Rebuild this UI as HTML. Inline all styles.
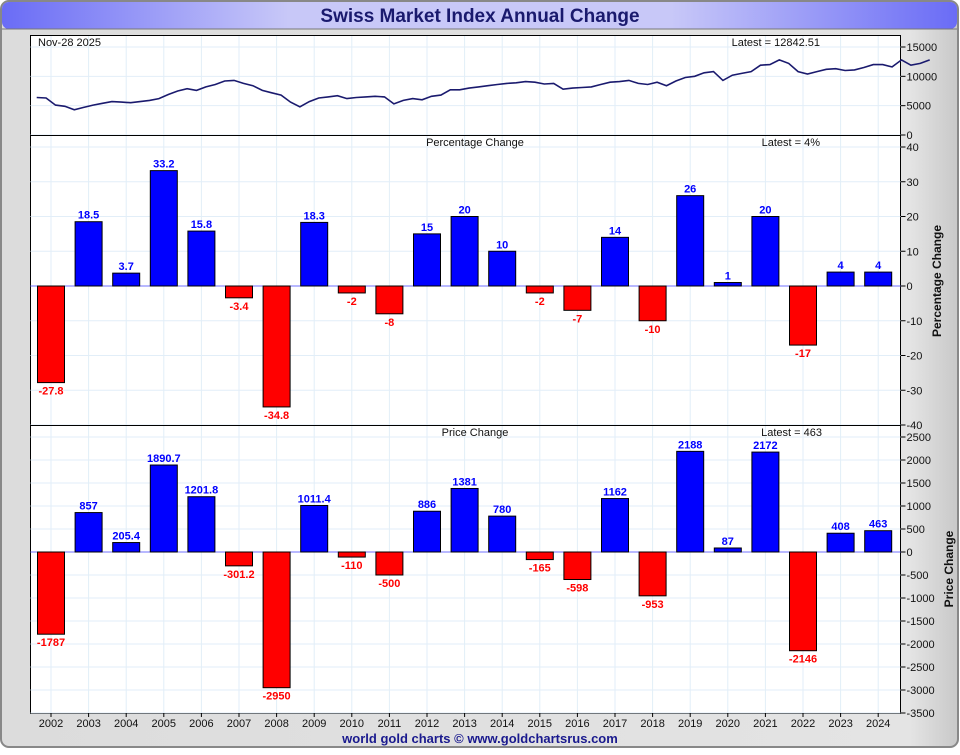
<!DOCTYPE html>
<html><head><meta charset="utf-8"><style>
body{margin:0;width:960px;height:750px;overflow:hidden;background:#fff;font-family:"Liberation Sans",sans-serif}
</style></head><body>
<svg id="c" width="960" height="750" xmlns="http://www.w3.org/2000/svg">
<defs>
<linearGradient id="tg" x1="0" x2="1"><stop offset="0" stop-color="#6a6cf6"/><stop offset="0.3" stop-color="#c8c8f8"/><stop offset="0.7" stop-color="#c8c8f8"/><stop offset="1" stop-color="#6a6cf6"/></linearGradient>
<linearGradient id="bg" x1="0" x2="1"><stop offset="0" stop-color="#dcdcdc"/><stop offset="0.95" stop-color="#e4e4e4"/><stop offset="1" stop-color="#c8c8c8"/></linearGradient>
</defs>
<rect x="1" y="1" width="957" height="746" rx="8" fill="url(#bg)" stroke="#888" stroke-width="2"/>
<rect x="2" y="2" width="955" height="27" rx="7" fill="url(#tg)"/>
<line x1="2" y1="29" x2="957" y2="29" stroke="#777"/>
<text x="480" y="22" text-anchor="middle" font-size="19" font-weight="bold" fill="#1a1a6e">Swiss Market Index Annual Change</text>
<rect x="30.5" y="35.5" width="870" height="678" fill="#fff" stroke="#000"/>
<g id="g"></g>
<text x="480" y="743" text-anchor="middle" font-size="13" font-weight="bold" fill="#1a1a8e">world gold charts © www.goldchartsrus.com</text>
</svg>
<script>
const years=[2002,2003,2004,2005,2006,2007,2008,2009,2010,2011,2012,2013,2014,2015,2016,2017,2018,2019,2020,2021,2022,2023,2024];
const pctValues=[-27.8,18.5,3.7,33.2,15.8,-3.4,-34.8,18.3,-2,-8,15,20,10,-2,-7,14,-10,26,1,20,-17,4,4];
const pctLabels=["-27.8","18.5","3.7","33.2","15.8","-3.4","-34.8","18.3","-2","-8","15","20","10","-2","-7","14","-10","26","1","20","-17","4","4"];
const priceValues=[-1787,857,205.4,1890.7,1201.8,-301.2,-2950,1011.4,-110,-500,886,1381,780,-165,-598,1162,-953,2188,87,2172,-2146,408,463];
const priceLabels=["-1787","857","205.4","1890.7","1201.8","-301.2","-2950","1011.4","-110","-500","886","1381","780","-165","-598","1162","-953","2188","87","2172","-2146","408","463"];
const pctTicks=[40,30,20,10,0,-10,-20,-30,-40];
const priceTicks=[2500,2000,1500,1000,500,0,-500,-1000,-1500,-2000,-2500,-3000,-3500];
const idxTicks=[15000,10000,5000,0];
// quarterly index levels 2002Q1..2025Q4
const idxValues=[6400,6300,5100,4900,4300,4700,5100,5400,5700,5600,5500,5700,5900,6200,6900,7500,7900,7600,8200,8600,9200,9300,8800,8400,7600,7200,6800,5600,4800,5700,6300,6500,6700,6200,6400,6500,6600,6500,5300,5900,6200,6000,6600,6800,7700,7700,8000,8200,8400,8600,8800,8900,9100,9000,8700,8800,7800,8000,8100,8200,8600,9000,9100,9300,8800,8600,9000,8400,9200,9800,10000,10600,10800,9300,10200,10500,10800,11900,12000,12800,12200,10800,10400,10800,11200,11300,11000,11100,11500,12000,12000,11600,12800,11900,12200,12800];

const NS="http://www.w3.org/2000/svg",G=document.getElementById('g');
function mk(t,a,txt){const e=document.createElementNS(NS,t);for(const k in a)e.setAttribute(k,a[k]);if(txt!==undefined)e.textContent=txt;G.appendChild(e);return e;}
const X0=30.5,X1=900.5;
const xYear=y=>51+(y-2002)*37.6;
const xTime=t=>32+(t-2002)*37.6;
const yIdx=v=>135-v*88/15000;
const yPct=v=>286-v*3.475;
const yPrice=v=>552-v*0.046;

// vertical grid
years.forEach(yr=>{const l=mk('line',{x1:xYear(yr),x2:xYear(yr),y1:36,y2:713,stroke:'#e2eef8'});
});
// horizontal grids + ticks
function axis(ticks,f,name,fmt){ticks.forEach(v=>{const y=f(v);
 const g=mk('line',{x1:X0,x2:X1,y1:y,y2:y,stroke:'#e2eef8'});
 mk('line',{x1:X1,x2:X1+5,y1:y,y2:y,stroke:'#000'});
 const t=mk('text',{x:X1+6,y:y+4,'font-size':11,fill:'#111'},fmt?fmt(v):String(v));});}
axis(idxTicks,yIdx,'index');axis(pctTicks,yPct,'percent');axis(priceTicks,yPrice,'price');
// panel separators
[135.5,425.5].forEach(y=>{const l=mk('line',{x1:X0,x2:X1,y1:y,y2:y,stroke:'#000'});});
// index line
let d='';idxValues.forEach((v,i)=>{d+=(i?'L':'M')+xTime(2002+i/4+0.125).toFixed(1)+','+yIdx(v).toFixed(1);});
const pl=mk('path',{d:d,fill:'none',stroke:'#1a1a6e','stroke-width':1.6});
// zero lines
[yPct(0),yPrice(0)].forEach(y=>{const l=mk('line',{x1:X0,x2:X1,y1:y,y2:y,stroke:'#7070ff'});});
function bars(vals,labs,f,name){vals.forEach((v,i)=>{const x=xYear(years[i]),y0=f(0),y=f(v),pos=v>=0;
 const r=mk('rect',{x:x-13.5,y:Math.min(y,y0),width:27,height:Math.max(1,Math.abs(y-y0)),fill:pos?'#0000ff':'#ff0000',stroke:'#000','stroke-width':1});
 
 const t=mk('text',{x:x,y:pos?y-3:y+12,'text-anchor':'middle','font-size':11,'font-weight':'bold',fill:pos?'#0000ff':'#ff0000'},labs[i]);
 });}
bars(pctValues,pctLabels,yPct,'percent');bars(priceValues,priceLabels,yPrice,'price');
years.forEach(yr=>{const t=mk('text',{x:xYear(yr),y:727,'text-anchor':'middle','font-size':11,fill:'#111'},String(yr));
 
 mk('line',{x1:xYear(yr),x2:xYear(yr),y1:713,y2:717,stroke:'#000'});});
const labels=[[38,46,'start','date-label','Nov-28  2025'],[820,46,'end','index-latest','Latest = 12842.51'],[475,146,'middle','percent-panel-title','Percentage Change'],[820,146,'end','percent-latest','Latest = 4%'],[475,436,'middle','price-panel-title','Price Change'],[822,436,'end','price-latest','Latest = 463']];
labels.forEach(a=>{const t=mk('text',{x:a[0],y:a[1],'text-anchor':a[2],'font-size':11,fill:'#111'},a[4]);});
const a1=mk('text',{x:0,y:0,transform:'translate(941,281) rotate(-90)','text-anchor':'middle','font-size':12,'font-weight':'bold',fill:'#111'},'Percentage Change');

const a2=mk('text',{x:0,y:0,transform:'translate(953,569) rotate(-90)','text-anchor':'middle','font-size':12,'font-weight':'bold',fill:'#111'},'Price Change');

</script>
</body></html>
